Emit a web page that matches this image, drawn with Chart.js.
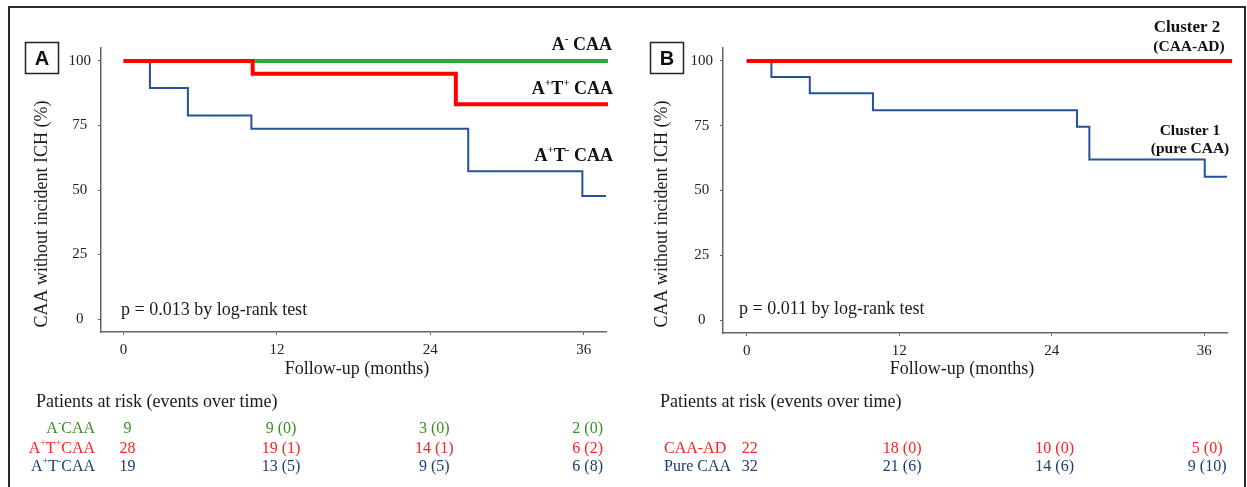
<!DOCTYPE html>
<html><head><meta charset="utf-8">
<script src="https://cdn.jsdelivr.net/npm/chart.js@4/dist/chart.umd.min.js"></script>
<style>
html,body{margin:0;padding:0;width:1247px;height:487px;overflow:hidden;background:#fff;}
#frame{position:absolute;left:8px;top:6px;width:1238px;height:540px;border:2px solid #2a2a2a;box-sizing:border-box;}
canvas{position:absolute;top:0;}
#cA{left:0px}
#cB{left:620px}
</style></head><body>
<div id="frame"></div>
<canvas id="cA" width="620" height="487"></canvas>
<canvas id="cB" width="627" height="487"></canvas>
<script>
// ---- tick labels ----
const xTicks = [0, 12, 24, 36];
const yTicks = [0, 25, 50, 75, 100];

// ---- Panel A: Kaplan-Meier steps (months, % without incident ICH) ----
const monthsAneg = [0, 37.9];
const survAneg   = [100, 100];
const monthsATpos = [0, 10.1, 26.0, 37.9];
const survATpos   = [100, 95.0, 83.2, 83.2];
const monthsATneg = [0, 2.06, 5.03, 10.0, 26.97, 35.9, 37.75];
const survATneg   = [100, 89.5, 78.9, 73.7, 57.3, 47.7, 47.7];

// ---- Panel B ----
const monthsCAAAD = [0, 38.2];
const survCAAAD   = [100, 100];
const monthsPure  = [0, 1.95, 4.97, 9.94, 26.0, 26.97, 36.05, 37.8];
const survPure    = [100, 93.8, 87.5, 81.0, 74.6, 62.0, 55.3, 55.3];

// ---- Patients at risk (events over time) ----
const riskTimes = [0, 12, 24, 36];
const riskAneg  = ['9', '9 (0)', '3 (0)', '2 (0)'];
const riskATpos = ['28', '19 (1)', '14 (1)', '6 (2)'];
const riskATneg = ['19', '13 (5)', '9 (5)', '6 (8)'];
const riskCAAAD = ['22', '18 (0)', '10 (0)', '5 (0)'];
const riskPure  = ['32', '21 (6)', '14 (6)', '9 (10)'];

const GREEN_LINE = '#27a940', GREEN_TEXT = '#3b8d22';
const RED_LINE = '#ff0000', RED_TEXT = '#ff1f1f';
const BLUE_LINE = '#24509c', BLUE_TEXT = '#1d3c6d';
const SERIF = "'Liberation Serif', 'Times New Roman', serif";
const SANS = "'Liberation Sans', Arial, sans-serif";

function pts(xs, ys) { return xs.map((x, i) => ({x: x, y: ys[i]})); }

function ds(xs, ys, color, width, order) {
  return { data: pts(xs, ys), borderColor: color, borderWidth: width, pointRadius: 0,
           stepped: true, fill: false, clip: false, order: order };
}

function richWidth(ctx, segs, size, weight) {
  let w = 0;
  for (const s of segs) {
    ctx.font = `${weight} ${s.sup ? size * 0.62 : size}px ${SERIF}`;
    w += ctx.measureText(s.t).width;
  }
  return w;
}
function drawRich(ctx, segs, x, y, size, weight, color, align) {
  const w = richWidth(ctx, segs, size, weight);
  let cx = align === 'right' ? x - w : (align === 'center' ? x - w / 2 : x);
  ctx.fillStyle = color; ctx.textBaseline = 'middle'; ctx.textAlign = 'left';
  for (const s of segs) {
    ctx.font = `${weight} ${s.sup ? size * 0.62 : size}px ${SERIF}`;
    ctx.fillText(s.t, cx, s.sup ? y - size * 0.33 : y);
    cx += ctx.measureText(s.t).width;
  }
}
function text(ctx, t, x, y, size, weight, color, align) {
  ctx.font = `${weight} ${size}px ${SERIF}`;
  ctx.fillStyle = color; ctx.textAlign = align; ctx.textBaseline = 'middle';
  ctx.fillText(t, x, y);
}
function panelBox(ctx, letter, x, y, w, h) {
  ctx.strokeStyle = '#222'; ctx.lineWidth = 1.5;
  ctx.strokeRect(x + 0.5, y + 0.5, w, h);
  ctx.font = `bold 20px ${SANS}`; ctx.fillStyle = '#111';
  ctx.textAlign = 'center'; ctx.textBaseline = 'middle';
  ctx.fillText(letter, x + w / 2 + 0.5, y + h / 2 + 1.5);
}
function yTitle(ctx, x, y) {
  ctx.save();
  ctx.translate(x, y); ctx.rotate(-Math.PI / 2);
  text(ctx, 'CAA without incident ICH (%)', 0, 0, 18, 'normal', '#1a1a1a', 'center');
  ctx.restore();
}

function makeChart(id, datasets, xMin, xMax, padding, extras) {
  const axisCol = '#666';
  return new Chart(document.getElementById(id), {
    type: 'line',
    data: { datasets: datasets },
    options: {
      responsive: false, animation: false, devicePixelRatio: 1,
      layout: { padding: padding },
      plugins: { legend: { display: false }, tooltip: { enabled: false }, title: { display: false } },
      scales: {
        x: {
          type: 'linear', min: xMin, max: xMax,
          afterBuildTicks: s => { s.ticks = xTicks.map(v => ({ value: v })); },
          afterFit: s => { s.height = 30; },
          grid: { display: true, drawOnChartArea: false, drawTicks: true, tickLength: 3, color: axisCol, lineWidth: 1 },
          border: { display: true, color: axisCol, width: 1.5 },
          ticks: { font: { family: SERIF, size: 15 }, color: '#222', padding: 6, maxRotation: 0 }
        },
        y: {
          type: 'linear', min: -5, max: 105,
          afterBuildTicks: s => { s.ticks = yTicks.map(v => ({ value: v })); },
          afterFit: s => { s.width = 40; },
          grid: { display: true, drawOnChartArea: false, drawTicks: true, tickLength: 3, color: axisCol, lineWidth: 1 },
          border: { display: true, color: axisCol, width: 1.5 },
          ticks: { font: { family: SERIF, size: 15 }, color: '#222', padding: 7, crossAlign: 'center' }
        }
      }
    },
    plugins: [{ id: 'extras', afterDraw: chart => { const c = chart.ctx; c.save(); extras(chart); c.restore(); } }]
  });
}

// ---------- Panel A ----------
makeChart('cA', [
  ds(monthsATpos, survATpos, RED_LINE, 4, 1),
  ds(monthsAneg, survAneg, GREEN_LINE, 4, 2),
  ds(monthsATneg, survATneg, BLUE_LINE, 2, 3)
], -1.77, 37.75, { left: 61, top: 48, right: 14, bottom: 125 }, chart => {
  const ctx = chart.ctx, xs = chart.scales.x;
  panelBox(ctx, 'A', 25, 42, 33, 31);
  yTitle(ctx, 42, 214);
  text(ctx, 'Follow-up (months)', 357, 369, 18, 'normal', '#1a1a1a', 'center');
  text(ctx, 'p = 0.013 by log-rank test', 121, 310, 18, 'normal', '#1a1a1a', 'left');
  // curve labels
  drawRich(ctx, [{t:'A'},{t:'-',sup:true},{t:' CAA'}], 612, 45, 18, 'bold', '#111', 'right');
  drawRich(ctx, [{t:'A'},{t:'+',sup:true},{t:'T'},{t:'+',sup:true},{t:' CAA'}], 613, 89, 18, 'bold', '#111', 'right');
  drawRich(ctx, [{t:'A'},{t:'+',sup:true},{t:'T'},{t:'-',sup:true},{t:' CAA'}], 613, 156, 18, 'bold', '#111', 'right');
  // risk table
  text(ctx, 'Patients at risk (events over time)', 36, 402, 18, 'normal', '#1a1a1a', 'left');
  const rows = [
    { segs: [{t:'A'},{t:'-',sup:true},{t:'CAA'}], vals: riskAneg, col: GREEN_TEXT, y: 429 },
    { segs: [{t:'A'},{t:'+',sup:true},{t:'T'},{t:'+',sup:true},{t:'CAA'}], vals: riskATpos, col: RED_TEXT, y: 448.5 },
    { segs: [{t:'A'},{t:'+',sup:true},{t:'T'},{t:'-',sup:true},{t:'CAA'}], vals: riskATneg, col: BLUE_TEXT, y: 466.5 }
  ];
  for (const r of rows) {
    drawRich(ctx, r.segs, 95, r.y, 16, 'normal', r.col, 'right');
    r.vals.forEach((v, i) => text(ctx, v, xs.getPixelForValue(riskTimes[i]) + 4, r.y, 16, 'normal', r.col, 'center'));
  }
});

// ---------- Panel B ----------
makeChart('cB', [
  ds(monthsCAAAD, survCAAAD, RED_LINE, 4, 1),
  ds(monthsPure, survPure, BLUE_LINE, 2, 2)
], -1.86, 37.8, { left: 63, top: 48, right: 20, bottom: 124 }, chart => {
  const ctx = chart.ctx, xs = chart.scales.x;
  panelBox(ctx, 'B', 30, 42, 33, 31);
  yTitle(ctx, 42, 214);
  text(ctx, 'Follow-up (months)', 342, 369, 18, 'normal', '#1a1a1a', 'center');
  text(ctx, 'p = 0.011 by log-rank test', 119, 309, 18, 'normal', '#1a1a1a', 'left');
  text(ctx, 'Cluster 2', 567, 28, 17, 'bold', '#111', 'center');
  text(ctx, '(CAA-AD)', 569, 46.5, 15.5, 'bold', '#111', 'center');
  text(ctx, 'Cluster 1', 570, 130.5, 15.5, 'bold', '#111', 'center');
  text(ctx, '(pure CAA)', 570, 149, 15.5, 'bold', '#111', 'center');
  text(ctx, 'Patients at risk (events over time)', 40, 402, 18, 'normal', '#1a1a1a', 'left');
  const rows = [
    { label: 'CAA-AD', vals: riskCAAAD, col: RED_TEXT, y: 448.5 },
    { label: 'Pure CAA', vals: riskPure, col: BLUE_TEXT, y: 466.5 }
  ];
  for (const r of rows) {
    text(ctx, r.label, 44, r.y, 16, 'normal', r.col, 'left');
    r.vals.forEach((v, i) => text(ctx, v, xs.getPixelForValue(riskTimes[i]) + 3, r.y, 16, 'normal', r.col, 'center'));
  }
});
</script>
</body></html>
